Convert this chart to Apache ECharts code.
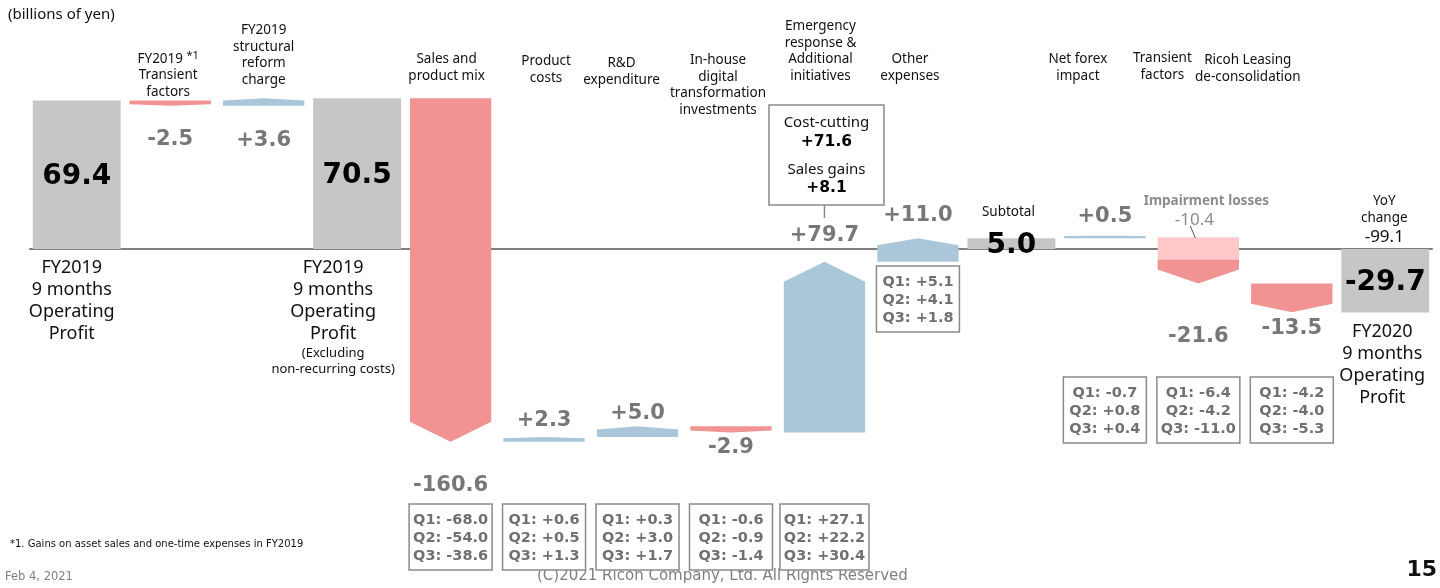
<!DOCTYPE html>
<html><head><meta charset="utf-8">
<script src="https://cdn.jsdelivr.net/npm/echarts@6/dist/echarts.min.js"></script>
<style>html,body{margin:0;padding:0;background:#fff}#c{width:1440px;height:588px}</style>
</head><body><div id="c"></div>
<script>
// ---------- data ----------
const categories = ['FY2019 9 months Operating Profit','FY2019 Transient factors','FY2019 structural reform charge','FY2019 9 months Operating Profit (Excluding non-recurring costs)','Sales and product mix','Product costs','R&D expenditure','In-house digital transformation investments','Emergency response & Additional initiatives','Other expenses','Subtotal','Net forex impact','Transient factors','Ricoh Leasing de-consolidation','FY2020 9 months Operating Profit'];
const values = [69.4, -2.5, 3.6, 70.5, -160.6, 2.3, 5.0, -2.9, 79.7, 11.0, 5.0, 0.5, -21.6, -13.5, -29.7];
const isTotal = [true,false,false,true,false,false,false,false,false,false,true,false,false,false,true];
const q1 = [null,null,null,null,-68.0,0.6,0.3,-0.6,27.1,5.1,null,-0.7,-6.4,-4.2,null];
const q2 = [null,null,null,null,-54.0,0.5,3.0,-0.9,22.2,4.1,null,0.8,-4.2,-4.0,null];
const q3 = [null,null,null,null,-38.6,1.3,1.7,-1.4,30.4,1.8,null,0.4,-11.0,-5.3,null];
const impairmentLosses = -10.4;   // part of "Transient factors"
const impairmentIndex = 12;
const costCutting = 71.6;
const salesGains = 8.1;
const breakdownIndex = 8;
const yoyChange = -99.1;
const topLabels = ['', 'FY2019 {s|*1}\nTransient\nfactors', 'FY2019\nstructural\nreform\ncharge', '', 'Sales and\nproduct mix', 'Product\ncosts', 'R&D\nexpenditure', 'In-house\ndigital\ntransformation\ninvestments', 'Emergency\nresponse &\nAdditional\ninitiatives', 'Other\nexpenses', 'Subtotal', 'Net forex\nimpact', 'Transient\nfactors', 'Ricoh Leasing\nde-consolidation', 'YoY\nchange\n{v|' + yoyChange.toFixed(1) + '}'];
const bottomLabels = ['FY2019\n9 months\nOperating\nProfit', '', '', 'FY2019\n9 months\nOperating\nProfit\n{n|(Excluding}\n{n|non-recurring costs)}', '', '', '', '', '', '', '', '', '', '', 'FY2020\n9 months\nOperating\nProfit'];

// ---------- layout / styles ----------
const GRAY = '#c6c6c6', RED = '#f09392', BLUE = '#abc6d8', PINK = '#ffc9ca';
const VAL_COLOR = '#777777';
const labelGap = [0, 34, 35, 0, 44, -16, -13, 15, -26, -23, 0, -19, 53, 16, 0];
const topLabelBottom = [0, 100, 88, 0, 84, 86, 88, 118, 84, 84, 220, 84, 83, 85, 248];
const topLabelDx = [0, -2, 0, 0, -4, 2, -16, -13, -4, -8, -3, -27, -36, -44, -1];
const bottomDx = [-5, 0, 0, -24, 0, 0, 0, 0, 0, 0, 0, 0, 0, 0, -3];
const qBoxTop = [0, 0, 0, 0, 504, 504, 504, 504, 504, 266, 0, 377, 377, 377, 0];

let run = 0;
const seriesData = values.map((v, i) => {
  let s, e;
  if (isTotal[i]) { s = 0; e = v; run = v; } else { s = run; e = run + v; run = e; }
  return [i, s, e];
});
const fmt = v => (v > 0 ? '+' : '') + v.toFixed(1);

function txt(text, x, y, o) {
  return { type: 'text', z2: 10, style: Object.assign({ text, x, y, align: 'center', verticalAlign: 'middle',
    fontFamily: 'Noto Sans', fontSize: 13.5, fill: '#111' }, o || {}) };
}

function renderItem(params, api) {
  const i = api.value(0), s = api.value(1), e = api.value(2);
  const band = api.size([1, 0])[0];
  const cx = api.coord([i, 0])[0];
  const zeroY = api.coord([i, 0])[1];
  const y0 = api.coord([i, s])[1], y1 = api.coord([i, e])[1];
  const top = Math.min(y0, y1), bot = Math.max(y0, y1);
  const kids = [];
  if (isTotal[i]) {
    const w = band * 0.94;
    kids.push({ type: 'rect', shape: { x: cx - w / 2, y: top, width: w, height: Math.max(bot - top, 1) }, style: { fill: GRAY } });
    kids.push(txt(values[i].toFixed(1), cx, (top + bot) / 2 + 2, { fontFamily: 'DejaVu Sans', fontWeight: 'bold', fontSize: 28, fill: '#000' }));
    if (bottomLabels[i]) {
      kids.push(txt(bottomLabels[i], cx + bottomDx[i], Math.max(zeroY, bot) + 8, { verticalAlign: 'top', fontSize: 18, lineHeight: 22,
        rich: { n: { fontFamily: 'Noto Sans', fontSize: 13, lineHeight: 16, fill: '#111' } } }));
    }
  } else {
    const w = band * 0.87, xl = cx - w / 2, xr = cx + w / 2;
    const up = e > s;
    const dir = up ? -1 : 1;
    const totalH = Math.abs(y1 - y0);
    let startY = y0;
    if (i === impairmentIndex) {
      const yi = api.coord([i, s + impairmentLosses])[1];
      kids.push({ type: 'rect', shape: { x: xl, y: y0, width: w, height: yi - y0 }, style: { fill: PINK } });
      startY = yi;
    }
    let endY = y1;
    if (Math.abs(endY - startY) < 2.5) endY = startY + dir * 2.5;
    const tip = Math.min(totalH * 0.3, 20, Math.abs(endY - startY));
    const sh = endY - dir * tip;
    kids.push({ type: 'polygon', shape: { points: [[xl, startY], [xl, sh], [cx, endY], [xr, sh], [xr, startY]] }, style: { fill: up ? BLUE : RED } });
    const g = labelGap[i];
    const ly = g > 0 ? Math.max(y0, endY) + g : Math.min(y0, endY) + g;
    kids.push(txt(fmt(values[i]), cx, ly, { fontFamily: 'DejaVu Sans', fontWeight: 'bold', fontSize: 21, fill: VAL_COLOR }));
  }
  if (topLabels[i]) {
    kids.push(txt(topLabels[i], cx + topLabelDx[i], topLabelBottom[i], { verticalAlign: 'bottom', lineHeight: 16.5,
      rich: { s: { fontFamily: 'Noto Sans', fontSize: 11, lineHeight: 16.5, verticalAlign: 'top', fill: '#111' },
              v: { fontFamily: 'Noto Sans', fontSize: 17, lineHeight: 22, fill: '#111' } } }));
  }
  if (q1[i] !== null) {
    const bw = i === breakdownIndex ? 89 : 83, bh = 66, bt = qBoxTop[i];
    kids.push({ type: 'rect', shape: { x: cx - bw / 2, y: bt, width: bw, height: bh }, style: { fill: '#fff', stroke: '#8a8a8a', lineWidth: 1.5 } });
    const t = ['Q1: ' + fmt(q1[i]), 'Q2: ' + fmt(q2[i]), 'Q3: ' + fmt(q3[i])].join('\n');
    kids.push(txt(t, cx, bt + bh / 2 + 1, { fontFamily: 'DejaVu Sans', fontWeight: 'bold', fontSize: 14.5, lineHeight: 18, fill: '#707070' }));
  }
  if (i === breakdownIndex) {
    const bx = cx + 2, bw = 115, bt = 105, bh = 100;
    kids.push({ type: 'rect', shape: { x: bx - bw / 2, y: bt, width: bw, height: bh }, style: { fill: '#fff', stroke: '#8a8a8a', lineWidth: 1.5 } });
    kids.push(txt('Cost-cutting', bx, bt + 18, { fontSize: 15 }));
    kids.push(txt(fmt(costCutting), bx, bt + 37, { fontFamily: 'DejaVu Sans', fontWeight: 'bold', fontSize: 15.5, fill: '#000' }));
    kids.push(txt('Sales gains', bx, bt + 65, { fontSize: 15 }));
    kids.push(txt(fmt(salesGains), bx, bt + 83, { fontFamily: 'DejaVu Sans', fontWeight: 'bold', fontSize: 15.5, fill: '#000' }));
    kids.push({ type: 'line', shape: { x1: cx, y1: bt + bh, x2: cx, y2: bt + bh + 13 }, style: { stroke: '#8a8a8a', lineWidth: 1.5 } });
  }
  if (i === impairmentIndex) {
    kids.push(txt('Impairment losses', cx + 8, 201, { fontWeight: 'bold', fontSize: 13.5, fill: '#8c8c8c' }));
    kids.push(txt(impairmentLosses.toFixed(1), cx - 4, 220, { fontSize: 17, fill: '#8c8c8c' }));
    kids.push({ type: 'line', shape: { x1: cx - 8, y1: 226, x2: cx - 3, y2: 238 }, style: { stroke: '#555', lineWidth: 1 } });
  }
  return { type: 'group', children: kids };
}

const chart = echarts.init(document.getElementById('c'), null, { renderer: 'canvas' });
chart.setOption({
  animation: false,
  backgroundColor: '#fff',
  grid: { left: 30, right: 8, top: 35, bottom: 18 },
  xAxis: { type: 'category', data: categories, axisLine: { onZero: true, lineStyle: { color: '#7f7f7f', width: 2 } },
    axisTick: { show: false }, axisLabel: { show: false }, splitLine: { show: false } },
  yAxis: { type: 'value', min: -150, max: 100, show: false, splitLine: { show: false } },
  series: [{ type: 'custom', renderItem, data: seriesData, encode: { x: 0, y: [1, 2] }, clip: false, z: 3 }],
  graphic: [
    { type: 'text', left: 8, top: 7, style: { text: '(billions of yen)', fontFamily: 'Noto Sans', fontSize: 15, fill: '#111' } },
    { type: 'text', left: 10, top: 539, style: { text: '*1. Gains on asset sales and one-time expenses in FY2019', fontFamily: 'DejaVu Sans', fontSize: 10, fill: '#111' } },
    { type: 'text', left: 5, top: 571, style: { text: 'Feb 4, 2021', fontFamily: 'DejaVu Sans', fontSize: 11.5, fill: '#7f7f7f' } },
    { type: 'text', left: 537, top: 569, style: { text: '(C)2021 Ricoh Company, Ltd. All Rights Reserved', fontFamily: 'DejaVu Sans', fontSize: 15, fill: '#7f7f7f' } },
    { type: 'text', right: 3, top: 559, style: { text: '15', fontFamily: 'DejaVu Sans', fontWeight: 'bold', fontSize: 22, fill: '#111' } }
  ]
});
</script></body></html>
